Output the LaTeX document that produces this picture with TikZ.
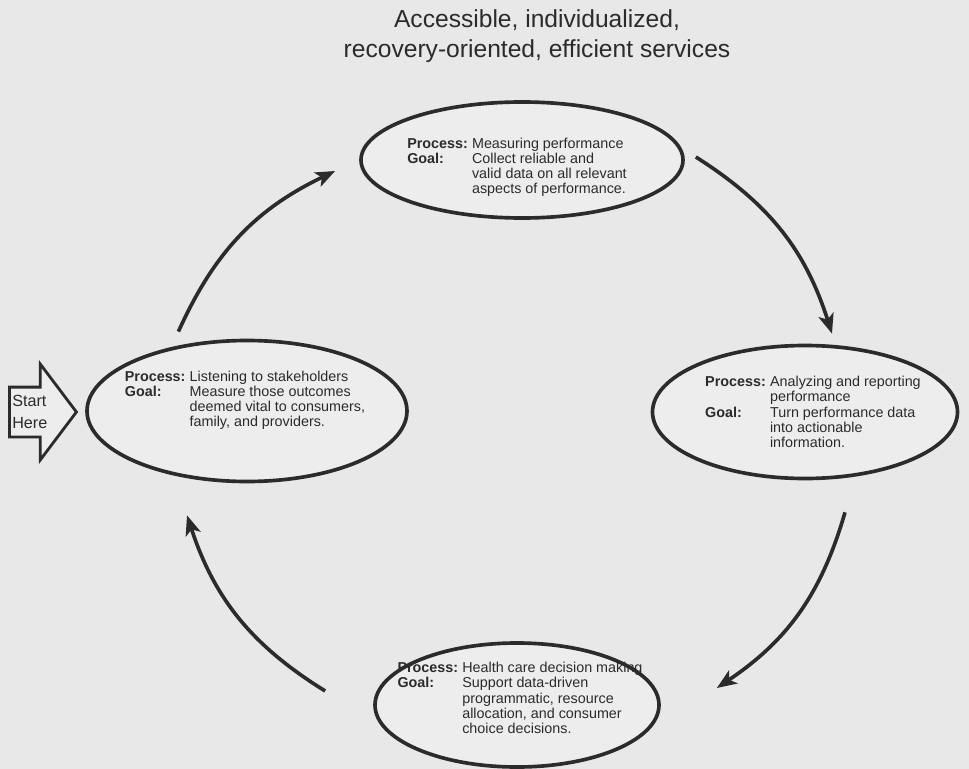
\documentclass[tikz,border=0pt]{standalone}
\usepackage{fontspec}
\setmainfont{Liberation Sans}
\usepackage{tikz}
\usetikzlibrary{arrows.meta,shapes,calc}
\definecolor{paper}{HTML}{E8E8E8}
\definecolor{ellfill}{HTML}{EDEDED}
\definecolor{ink}{HTML}{2B2B2B}
\newcommand{\pxu}{0.025cm}
\newcommand{\pgtab}[1]{\begin{tabular}{@{}l@{\hspace{3pt}}l@{}}#1\end{tabular}}
\newcommand{\proc}{\textbf{Process:}}
\newcommand{\goal}{\textbf{Goal:}}

\begin{document}
\begin{tikzpicture}[x=\pxu, y=-\pxu]
\tikzstyle{proc}=[ellipse, draw=ink, line width=2.6pt, fill=ellfill, inner sep=0pt]
\tikzstyle{txt}=[inner sep=0pt, text=ink, font=\fontsize{10.2}{10.8}\selectfont]
\tikzstyle{flow}=[-{Stealth[length=14pt, width=11pt, inset=3.5pt]}, line width=2.6pt, draw=ink, bend left=20]
\tikzstyle{startarrow}=[single arrow, draw=ink, line width=2pt, fill=ellfill, inner xsep=0pt, inner ysep=23.5*\pxu, minimum height=67*\pxu, single arrow head extend=23*\pxu, single arrow tip angle=106]

  \fill[paper] (0,0) rectangle (969,769);
  \useasboundingbox (0,0) rectangle (969,769);

  \node[text=ink, align=center, font=\fontsize{17.5}{21.5}\selectfont] (title) at (537,36)
    {Accessible, individualized,\\recovery-oriented, efficient services};

  % the four stages
  \node[proc, minimum width=322*\pxu, minimum height=116*\pxu] (meas)  at (522,160) {};
  \node[proc, minimum width=305*\pxu, minimum height=133*\pxu] (anrep) at (805,412) {};
  \node[proc, minimum width=284*\pxu, minimum height=124*\pxu] (hcd)   at (517,705) {};
  \node[proc, minimum width=320*\pxu, minimum height=141*\pxu] (lst)   at (247,411) {};

  \node[txt] (meastxt) at (517,168) {\pgtab{\proc & Measuring performance\\
    \goal & Collect reliable and\\ & valid data on all relevant\\ & aspects of performance.}};
  \node[txt] (anreptxt) at (813,414) {\pgtab{\proc & Analyzing and reporting\\ & performance\\
    \goal & Turn performance data\\ & into actionable\\ & information.}};
  \node[txt] (hcdtxt) at (520,700) {\pgtab{\proc & Health care decision making\\
    \goal & Support data-driven\\ & programmatic, resource\\ & allocation, and consumer\\ & choice decisions.}};
  \node[txt] (lsttxt) at (245,401) {\pgtab{\proc & Listening to stakeholders\\
    \goal & Measure those outcomes\\ & deemed vital to consumers,\\ & family, and providers.}};

  \node[startarrow, anchor=tail] (start) at (8,412) {};
  \node[inner sep=0pt, text=ink, align=left, anchor=west, font=\fontsize{11.5}{16}\selectfont] (starttxt) at (12,412) {Start\\Here};

  % cycle
  \path ([shift={(-10,-12)}]lst.131) edge [flow] ([shift={(-24,11)}]meas.west);
  \path ([shift={(11,-3)}]meas.east) edge [flow] ([shift={(27,-10)}]anrep.north);
  \path ([shift={(40,32)}]anrep.south) edge [flow] ([shift={(56,-17)}]hcd.east);
  \path ([shift={(-48,-14)}]hcd.west) edge [flow] ([shift={(-60,32)}]lst.south);

\end{tikzpicture}
\end{document}
